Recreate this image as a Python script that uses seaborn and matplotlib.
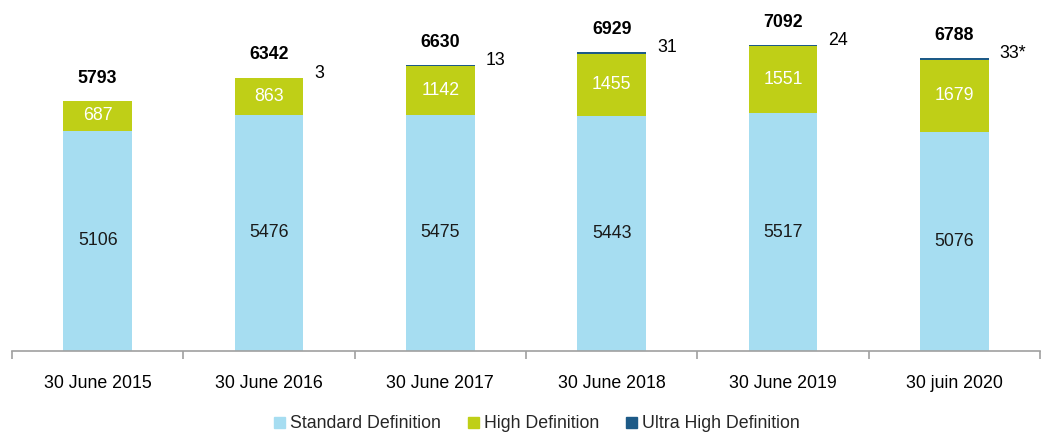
import matplotlib
matplotlib.use("Agg")
import matplotlib.pyplot as plt
import seaborn as sns
import numpy as np
import pandas as pd
from matplotlib.patches import Patch

categories = ["30 June 2015", "30 June 2016", "30 June 2017", "30 June 2018", "30 June 2019", "30 juin 2020"]
sd = [5106, 5476, 5475, 5443, 5517, 5076]
hd = [687, 863, 1142, 1455, 1551, 1679]
uhd = [0, 3, 13, 31, 24, 33]
totals = [5793, 6342, 6630, 6929, 7092, 6788]
uhd_labels = ["", "3", "13", "31", "24", "33*"]

c_sd = "#A6DDF1"
c_hd = "#BFCF17"
c_uhd = "#1D5A87"

sns.set_theme(style="white")
plt.rcParams["font.family"] = ["Liberation Sans", "DejaVu Sans"]

FS = 12.8

fig = plt.figure(figsize=(10.41, 4.34), dpi=100)
ax = fig.add_axes([12/1041, 1 - 351/434, 1028/1041, 345/434])

df = pd.DataFrame({"cat": categories, "sd": sd, "hd": hd, "uhd": uhd})
df["l1"] = df["sd"]
df["l2"] = df["sd"] + df["hd"]
df["l3"] = df["sd"] + df["hd"] + df["uhd"]

W = 0.4
sns.barplot(data=df, x="cat", y="l3", color=c_uhd, saturation=1, width=W, ax=ax)
sns.barplot(data=df, x="cat", y="l2", color=c_hd, saturation=1, width=W, ax=ax)
sns.barplot(data=df, x="cat", y="l1", color=c_sd, saturation=1, width=W, ax=ax)
for p in ax.patches:
    p.set_edgecolor("none")

ax.set_ylim(0, 8000)
ax.set_xlim(-0.5, len(categories) - 0.5)
ax.set_xlabel("")
ax.set_ylabel("")
ax.set_yticks([])
for s in ["top", "right", "left"]:
    ax.spines[s].set_visible(False)
ax.spines["bottom"].set_color("#A0A0A0")
ax.spines["bottom"].set_linewidth(1.2)

ax.set_xticks(np.arange(len(categories) + 1) - 0.5, minor=False)
ax.set_xticklabels([])
ax.tick_params(axis="x", which="major", bottom=True, length=6, color="#A0A0A0", width=1.2)
ax.set_xticks(np.arange(len(categories)), minor=True)
ax.set_xticklabels(categories, minor=True, fontsize=FS, color="black")
ax.tick_params(axis="x", which="minor", bottom=False, pad=13)

for i in range(len(categories)):
    ax.text(i, sd[i] / 2, str(sd[i]), ha="center", va="center", fontsize=FS, color="#1a1a1a")
    ax.text(i, sd[i] + hd[i] / 2, str(hd[i]), ha="center", va="center", fontsize=FS, color="white")
    top = sd[i] + hd[i] + uhd[i]
    ax.text(i, top + 530, str(totals[i]), ha="center", va="center", fontsize=FS, fontweight="bold", color="black")
    if uhd_labels[i]:
        ax.text(i + W / 2 + 0.065, top + 100, uhd_labels[i], ha="left", va="center", fontsize=FS, color="black")

handles = [Patch(color=c_sd, label="Standard Definition"),
           Patch(color=c_hd, label="High Definition"),
           Patch(color=c_uhd, label="Ultra High Definition")]
fig.legend(handles=handles, loc="center", bbox_to_anchor=(537/1041, 1 - 424/434), ncol=3,
           frameon=False, fontsize=FS, handlelength=0.6, handleheight=0.6,
           handletextpad=0.3, columnspacing=1.5)

fig.savefig("out.png", dpi=100)
